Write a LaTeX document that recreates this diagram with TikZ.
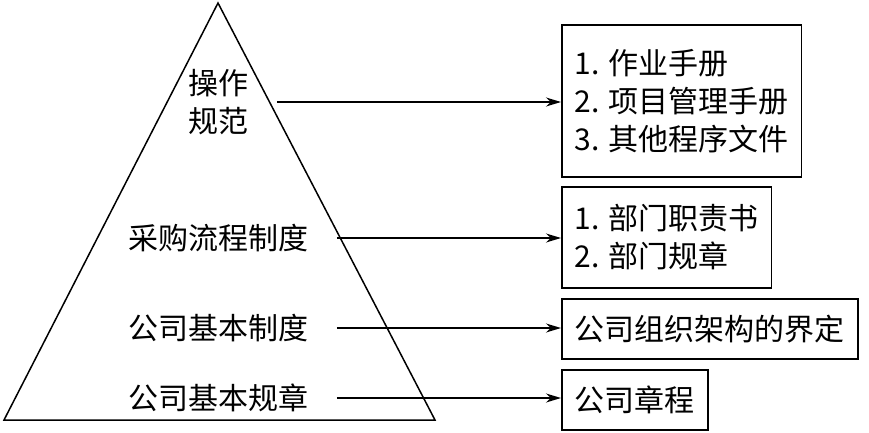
\documentclass[tikz,border=0pt]{standalone}
\usepackage{fontspec}
\newfontfamily\cjk{Noto Sans CJK SC}
\usetikzlibrary{arrows.meta, positioning, calc}

\tikzset{
  lab/.style={font=\cjk\fontsize{30}{38}\selectfont, inner sep=0pt, align=center},
  docbox/.style={draw, anchor=west, font=\cjk\fontsize{30}{38}\selectfont,
    align=left, inner xsep=13pt, inner ysep=0pt},
  link/.style={->, shorten <=28pt}
}

\begin{document}
\begin{tikzpicture}[x=1pt, y=-1pt, >={Stealth[length=15pt, width=9pt]}, line width=1.5pt]
        \useasboundingbox (0,0) rectangle (869,433);
        % Pyramid
        \draw (218,3) -- (435,420) -- (4,420) -- cycle;
        % Levels of the pyramid
        \node[lab] (ops) at (218,102) {操作\\规范};
        \node[lab] (proc) at (218,238) {采购流程制度};
        \node[lab] (basic) at (218,328) {公司基本制度};
        \node[lab] (rules) at (218,398) {公司基本规章};
        % Documents on the right
        \node[docbox, minimum height=152pt] (manuals) at (561,101)
            {1. 作业手册\\2. 项目管理手册\\3. 其他程序文件};
        \node[docbox, minimum height=101pt] (dept) at (561,237.5)
            {1. 部门职责书\\2. 部门规章};
        \node[docbox, minimum height=60pt] (org) at (561,329) {公司组织架构的界定};
        \node[docbox, minimum height=60pt] (charter) at (561,400) {公司章程};
        % Arrows
        \draw[link] (ops.east) -- (ops.east -| manuals.west);
        \draw[link] (proc.east) -- (proc.east -| dept.west);
        \draw[link] (basic.east) -- (basic.east -| org.west);
        \draw[link] (rules.east) -- (rules.east -| charter.west);
    \end{tikzpicture}
\end{document}
